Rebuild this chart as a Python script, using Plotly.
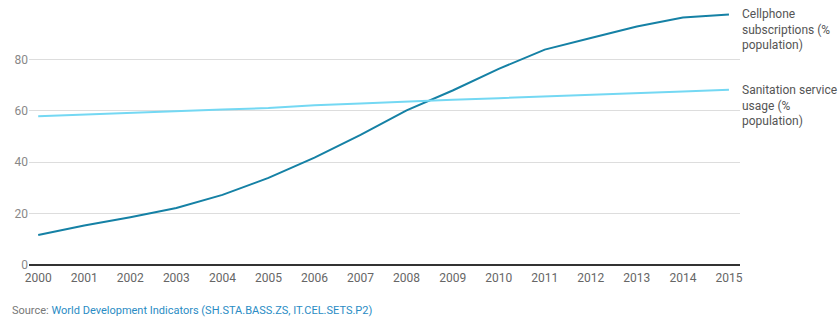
import plotly.graph_objects as go

years = list(range(2000, 2016))
cellphone = [11.7, 15.4, 18.6, 22.2, 27.3, 33.9, 41.8, 50.6, 60.2, 67.9, 76.3, 83.8, 88.3, 92.8, 96.3, 97.5]
sanitation = [57.9, 58.6, 59.2, 59.8, 60.5, 61.1, 62.2, 62.8, 63.6, 64.3, 64.9, 65.5, 66.1, 66.8, 67.5, 68.2]
y_ticks = [0, 20, 40, 60, 80]
names = ["Cellphone<br>subscriptions (%<br>population)",
         "Sanitation service<br>usage (%<br>population)"]
colors = ["#1581a5", "#74d8f3"]

fig = go.Figure()
for vals, nm, col in [(cellphone, names[0], colors[0]), (sanitation, names[1], colors[1])]:
    fig.add_trace(go.Scatter(x=years, y=vals, mode="lines", line=dict(color=col, width=2),
                             showlegend=False, hoverinfo="x+y"))
    fig.add_annotation(x=1, xref="paper", y=vals[-1], yref="y", text=nm, showarrow=False,
                       xanchor="left", yanchor="top", align="left", yshift=9, xshift=0,
                       font=dict(family="Roboto", size=12, color="#555"))

fig.add_annotation(x=-29/711, xref="paper", y=-57/257.5, yref="paper",
                   text="Source: <span style='color:#2a8cc4'>World Development Indicators (SH.STA.BASS.ZS, IT.CEL.SETS.P2)</span>",
                   showarrow=False, xanchor="left", yanchor="bottom", yshift=3, xshift=10,
                   font=dict(family="Roboto", size=11, color="#777"))

fig.update_layout(
    width=839, height=322,
    margin=dict(l=29, r=99, t=7.5, b=57),
    paper_bgcolor="white", plot_bgcolor="white",
    font=dict(family="Roboto", size=12, color="#666"),
    xaxis=dict(range=[1999.8, 2015.24], tickvals=years, ticktext=[str(y) for y in years],
               showgrid=False, zeroline=False, showline=False, ticks="", ticklabelstandoff=4,
               tickfont=dict(color="#666")),
    yaxis=dict(range=[0, 100], tickvals=y_ticks, showgrid=True, gridcolor="#dddddd", gridwidth=1,
               zeroline=True, zerolinecolor="#333", zerolinewidth=1.5, showline=False, ticks="",
               tickfont=dict(color="#888")),
)
fig.write_html("out.html")
